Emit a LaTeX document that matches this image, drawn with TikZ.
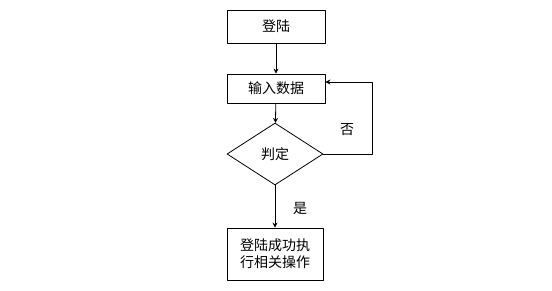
\documentclass[tikz,border=0pt]{standalone}
\usepackage{fontspec}
\newfontfamily\cjk{Noto Sans CJK SC}
\usetikzlibrary{shapes.geometric,arrows.meta}

\tikzset{
  box/.style={draw, line width=0.8pt, minimum width=98pt, inner sep=2pt, font=\cjk\fontsize{14}{17}\selectfont},
  decision/.style={draw, diamond, line width=0.8pt, inner sep=0pt, minimum width=96pt, minimum height=62pt, font=\cjk\fontsize{14}{17}\selectfont},
  flow/.style={line width=0.8pt, -{Stealth[length=5pt,width=5pt]}},
  tag/.style={font=\cjk\fontsize{14}{17}\selectfont}
}

\begin{document}
\begin{tikzpicture}[x=1pt, y=1pt, line cap=round, line join=round]
  \useasboundingbox (0,0) rectangle (552,-291);

  % Kaestchen
  \node[box, minimum height=33pt] (login) at (276,-26.5) {登陆};
  \node[box, minimum height=29pt] (input) at (276,-88.5) {输入数据};
  \node[decision] (judge) at (275,-154) {判定};
  \node[box, minimum width=96pt, minimum height=52pt, align=left] (done) at (275,-254) {登陆成功执\\行相关操作};

  % Pfeile
  \draw[flow] (login) -- (input);
  \draw[flow] (input) -- (judge);
  \draw[flow] (judge) -- (done);
  \draw[flow] (judge.east) -- ++(49,0) |- ([yshift=6.5pt]input.east);

  % Beschriftung
  \node[tag] (no) at (347,-130) {否};
  \node[tag] (yes) at (300,-208) {是};
\end{tikzpicture}
\end{document}
